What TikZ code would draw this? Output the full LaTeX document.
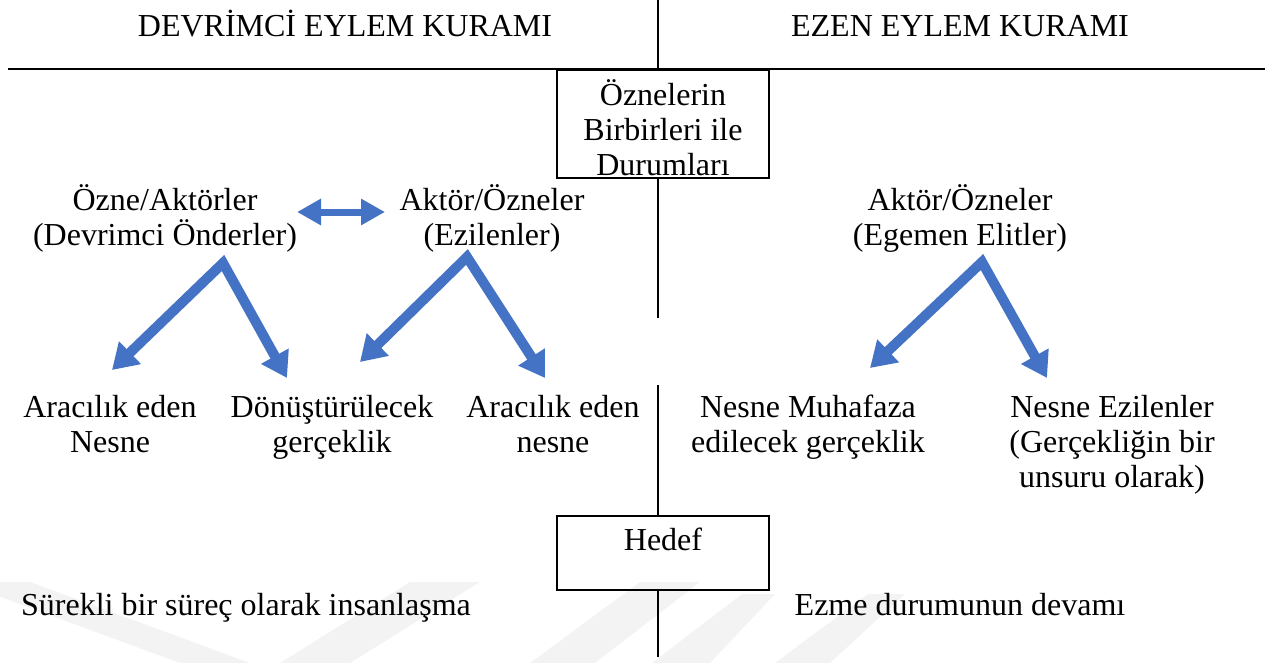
\documentclass[tikz,border=0pt]{standalone}
\usepackage{fontspec}
\setmainfont{Liberation Serif}
\usetikzlibrary{arrows.meta}
\definecolor{arrblue}{HTML}{4472C4}
\definecolor{wmark}{HTML}{F3F3F3}
\newcommand{\fs}{\fontsize{32}{35}\selectfont}
\tikzset{
  txt/.style={font=\fs, inner sep=0pt, align=center, anchor=base},
  framebox/.style={draw=black, line width=2pt, font=\fs, align=center, inner sep=0pt, minimum width=212pt},
  vee/.style={draw=arrblue, line width=10pt, line join=miter, {Triangle[width=30pt,length=25pt]}-{Triangle[width=30pt,length=25pt]}},
  dblarr/.style={draw=arrblue, line width=7pt, {Triangle[width=25pt,length=24pt]}-{Triangle[width=25pt,length=24pt]}},
  midline/.style={draw=black, line width=1.6pt},
  hrule/.style={draw=black, line width=2.2pt},
  wm/.style={fill=wmark, draw=none}
}
\begin{document}
\begin{tikzpicture}[x=1pt,y=-1pt]
\useasboundingbox (0,0) rectangle (1273,663);
% faint watermark stripes
\fill[wm] (-40,582) -- (30,582) -- (250,663) -- (180,663) -- cycle;
\fill[wm] (280,663) -- (350,663) -- (480,582) -- (410,582) -- cycle;
\fill[wm] (530,663) -- (595,663) -- (700,582) -- (640,582) -- cycle;
\fill[wm] (652,663) -- (710,663) -- (775,594) -- (742,594) -- cycle;
\fill[wm] (775,663) -- (830,663) -- (905,594) -- (868,594) -- cycle;

% headers
\node[txt] (hdL) at (345,37) {DEVRİMCİ EYLEM KURAMI};
\node[txt] (hdR) at (960,37) {EZEN EYLEM KURAMI};

% rules and boxes
\coordinate (hL) at (8,69);
\coordinate (hR) at (1265,69);
\draw[hrule] (hL) -- (hR);
\node[framebox, minimum height=108pt, anchor=north] (rel) at (663,69)
  {\raisebox{-9pt}[\height][\depth]{\begin{tabular}{@{}c@{}}Öznelerin\\Birbirleri ile\\Durumları\end{tabular}}};
\node[framebox, text height=34pt, text depth=40pt, anchor=north] (goal) at (663,515) {Hedef};
\coordinate (vTop) at (658,0);
\coordinate (vA) at (658,69);
\coordinate (vB1) at (658,318);
\coordinate (vC0) at (658,385);
\coordinate (vBot) at (658,657);
\draw[midline] (vTop) -- (vA);
\draw[midline] (rel.south -| vA) -- (vB1);
\draw[midline] (vC0) -- (goal.north -| vC0);
\draw[midline] (goal.south -| vC0) -- (vBot);

% actor labels (base = last line)
\node[txt] (actL) at (165,245) {Özne/Aktörler\\(Devrimci Önderler)};
\node[txt] (actM) at (492,245) {Aktör/Özneler\\(Ezilenler)};
\node[txt] (actR) at (960,245) {Aktör/Özneler\\(Egemen Elitler)};

% object labels
\node[txt] (o1) at (110,452) {Aracılık eden\\Nesne};
\node[txt] (o2) at (332,452) {Dönüştürülecek\\gerçeklik};
\node[txt] (o3) at (553,452) {Aracılık eden\\nesne};
\node[txt] (o4) at (808,452) {Nesne Muhafaza\\edilecek gerçeklik};
\node[txt] (o5) at (1112,487) {Nesne Ezilenler\\(Gerçekliğin bir\\unsuru olarak)};

% outcomes
\node[txt] (endL) at (246,615) {Sürekli bir süreç olarak insanlaşma};
\node[txt] (endR) at (960,615) {Ezme durumunun devamı};

% arrows
\coordinate (dA) at (297,212);
\coordinate (dB) at (385,212);
\draw[dblarr] (dA) -- (dB);

\coordinate (ap1) at (223,263);
\coordinate (t11) at (112,370);
\coordinate (t12) at (287,378);
\draw[vee] (t11) -- (ap1) -- (t12);

\coordinate (ap2) at (467,257);
\coordinate (t21) at (360,362);
\coordinate (t22) at (545,378);
\draw[vee] (t21) -- (ap2) -- (t22);

\coordinate (ap3) at (982,262);
\coordinate (t31) at (870,368);
\coordinate (t32) at (1047,378);
\draw[vee] (t31) -- (ap3) -- (t32);
\end{tikzpicture}
\end{document}
